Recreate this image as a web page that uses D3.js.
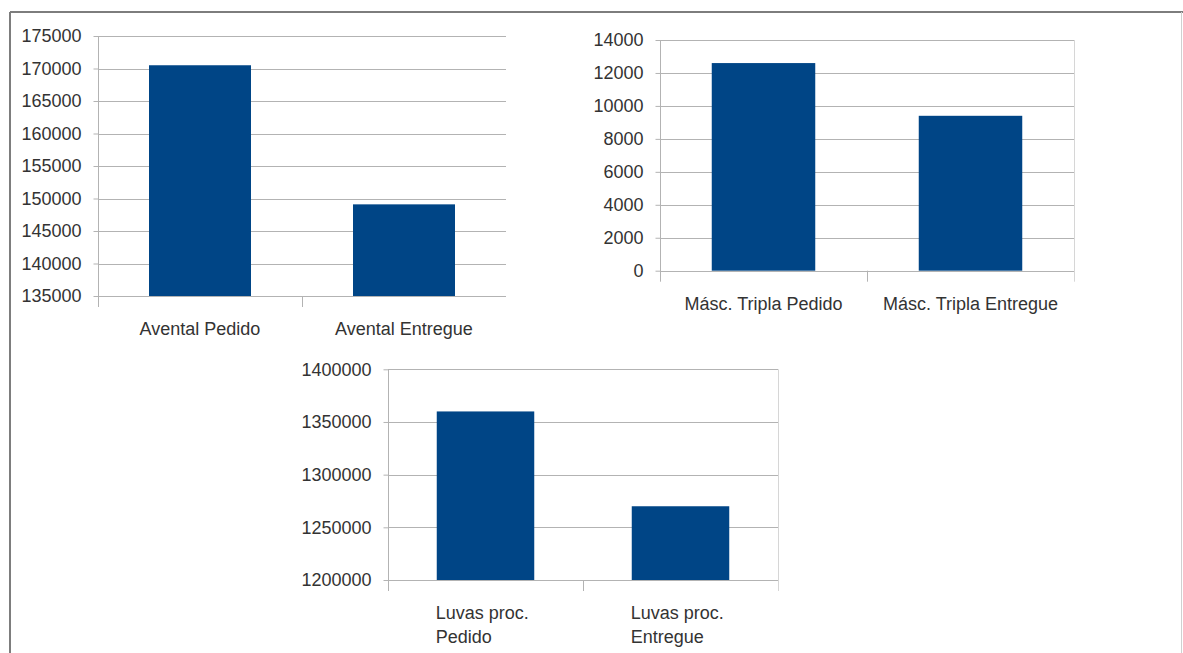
<!DOCTYPE html>
<html>
<head>
<meta charset="utf-8">
<script src="https://cdn.jsdelivr.net/npm/d3@7"></script>
<style>
  html, body { margin: 0; padding: 0; background: #fff; }
  svg { display: block; font-family: "Liberation Sans", Arial, sans-serif; }
</style>
</head>
<body>
<svg id="chart" width="1183" height="653"></svg>
<script>
// Aventais
const aventalCategories = ["Avental Pedido", "Avental Entregue"];
const aventalValues = [170500, 149100];
const aventalTicks = [135000, 140000, 145000, 150000, 155000, 160000, 165000, 170000, 175000];

// Máscaras triplas
const mascaraCategories = ["Másc. Tripla Pedido", "Másc. Tripla Entregue"];
const mascaraValues = [12600, 9400];
const mascaraTicks = [0, 2000, 4000, 6000, 8000, 10000, 12000, 14000];

// Luvas de procedimento (rótulos em duas linhas)
const luvasCategories = [["Luvas proc.", "Pedido"], ["Luvas proc.", "Entregue"]];
const luvasValues = [1360000, 1270000];
const luvasTicks = [1200000, 1250000, 1300000, 1350000, 1400000];

const BAR = "#004586";
const GRID = "#b3b3b3";
const TEXT = "#333333";

const svg = d3.select("#chart");

// outer frame
svg.append("line").attr("x1", 10).attr("x2", 1183).attr("y1", 12).attr("y2", 12)
  .attr("stroke", "#7d7d7d").attr("stroke-width", 2);
svg.append("line").attr("x1", 10).attr("x2", 10).attr("y1", 12).attr("y2", 653)
  .attr("stroke", "#7d7d7d").attr("stroke-width", 2);
svg.append("line").attr("x1", 1181.5).attr("x2", 1181.5).attr("y1", 12).attr("y2", 653)
  .attr("stroke", "#d0d0d0").attr("stroke-width", 1);

function barChart(opts) {
  const { left, right, top, bottom, categories, values, ticks, wrapLeft, rightBorder } = opts;
  const g = svg.append("g");

  const x = d3.scaleBand()
    .domain(categories.map((d, i) => i))
    .range([left, right])
    .paddingInner(0.5)
    .paddingOuter(0.25);

  const y = d3.scaleLinear()
    .domain([ticks[0], ticks[ticks.length - 1]])
    .range([bottom, top]);

  // horizontal gridlines
  g.append("g").selectAll("line").data(ticks).join("line")
    .attr("x1", left).attr("x2", right)
    .attr("y1", d => Math.round(y(d)) + 0.5).attr("y2", d => Math.round(y(d)) + 0.5)
    .attr("stroke", GRID).attr("stroke-width", 1);

  // value axis
  const yAxis = g.append("g")
    .attr("transform", `translate(${Math.round(left) + 0.5},0)`)
    .call(d3.axisLeft(y).tickValues(ticks).tickSize(5).tickPadding(12)
      .tickFormat(d3.format("d")));
  yAxis.select(".domain").remove();
  yAxis.selectAll(".tick line").attr("stroke", GRID);
  yAxis.selectAll(".tick text")
    .attr("fill", TEXT).attr("font-size", 18)
    .attr("font-family", "Liberation Sans, Arial, sans-serif");

  // axis line and category separator
  g.append("line")
    .attr("x1", Math.round(left) + 0.5).attr("x2", Math.round(left) + 0.5)
    .attr("y1", top).attr("y2", bottom + 11)
    .attr("stroke", GRID);
  g.append("line")
    .attr("x1", Math.round((left + right) / 2) + 0.5).attr("x2", Math.round((left + right) / 2) + 0.5)
    .attr("y1", bottom).attr("y2", bottom + 11)
    .attr("stroke", GRID);
  if (rightBorder) {
    g.append("line")
      .attr("x1", Math.round(right) + 0.5).attr("x2", Math.round(right) + 0.5)
      .attr("y1", top).attr("y2", bottom + 11)
      .attr("stroke", "#d6d6d6");
  }

  // bars
  g.append("g").selectAll("rect").data(values).join("rect")
    .attr("x", (d, i) => x(i))
    .attr("width", x.bandwidth())
    .attr("y", d => y(d))
    .attr("height", d => y(ticks[0]) - y(d))
    .attr("fill", BAR);

  // category labels
  const labels = g.append("g").selectAll("text").data(categories).join("text")
    .attr("fill", TEXT).attr("font-size", 18)
    .attr("y", bottom + 39);
  if (wrapLeft) {
    labels.attr("text-anchor", "start")
      .each(function (d, i) {
        const t = d3.select(this);
        d.forEach((line, k) => {
          t.append("tspan").attr("x", x(i) - 1).attr("dy", k === 0 ? 0 : 24).text(line);
        });
      });
  } else {
    labels.attr("text-anchor", "middle")
      .attr("x", (d, i) => x(i) + x.bandwidth() / 2)
      .text(d => d);
  }
}

barChart({ left: 98, right: 506, top: 36, bottom: 296,
  categories: aventalCategories, values: aventalValues, ticks: aventalTicks });

barChart({ left: 660, right: 1074, top: 40, bottom: 270.7,
  categories: mascaraCategories, values: mascaraValues, ticks: mascaraTicks, rightBorder: true });

barChart({ left: 388, right: 778, top: 369.3, bottom: 580,
  categories: luvasCategories, values: luvasValues, ticks: luvasTicks, wrapLeft: true, rightBorder: true });
</script>
</body>
</html>
